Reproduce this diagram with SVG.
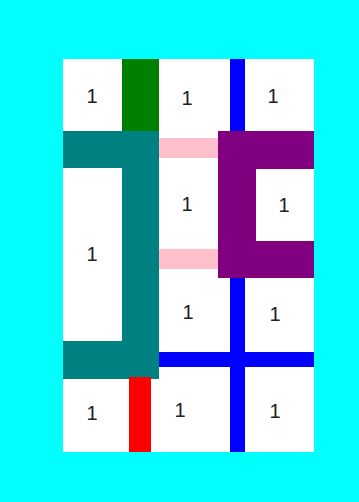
<svg xmlns="http://www.w3.org/2000/svg" width="359" height="502" viewBox="0 0 359 502">
<style>
.t{font-family:"Liberation Sans",Arial,sans-serif;font-size:20px;fill:#222;text-anchor:middle}
</style>
<rect x="0" y="0" width="359" height="502" fill="#00ffff"/>
<rect x="63" y="59" width="251" height="393" fill="#ffffff"/>
<g id="shapes">
<rect x="122" y="59" width="37" height="72" fill="#008000"/>
<rect x="230" y="59" width="15" height="72" fill="#0000ff"/>
<rect x="159" y="138" width="59" height="20" fill="#ffc0cb"/>
<rect x="159" y="249" width="59" height="20" fill="#ffc0cb"/>
<path d="M63 131H159V379H63V341H122V168H63Z" fill="#008080"/>
<path d="M218 131H314V169H256V241H314V278H218Z" fill="#800080"/>
<rect x="230" y="278" width="15" height="174" fill="#0000ff"/>
<rect x="159" y="352" width="155" height="15" fill="#0000ff"/>
<rect x="129" y="377" width="22" height="75" fill="#ff0000"/>
</g>
<g id="labels">
<text class="t" x="92" y="103">1</text>
<text class="t" x="187" y="105">1</text>
<text class="t" x="273" y="103">1</text>
<text class="t" x="187" y="211">1</text>
<text class="t" x="284" y="212">1</text>
<text class="t" x="92" y="261">1</text>
<text class="t" x="188" y="319">1</text>
<text class="t" x="275" y="321">1</text>
<text class="t" x="92" y="420">1</text>
<text class="t" x="180" y="417">1</text>
<text class="t" x="275" y="418">1</text>
</g>
</svg>
